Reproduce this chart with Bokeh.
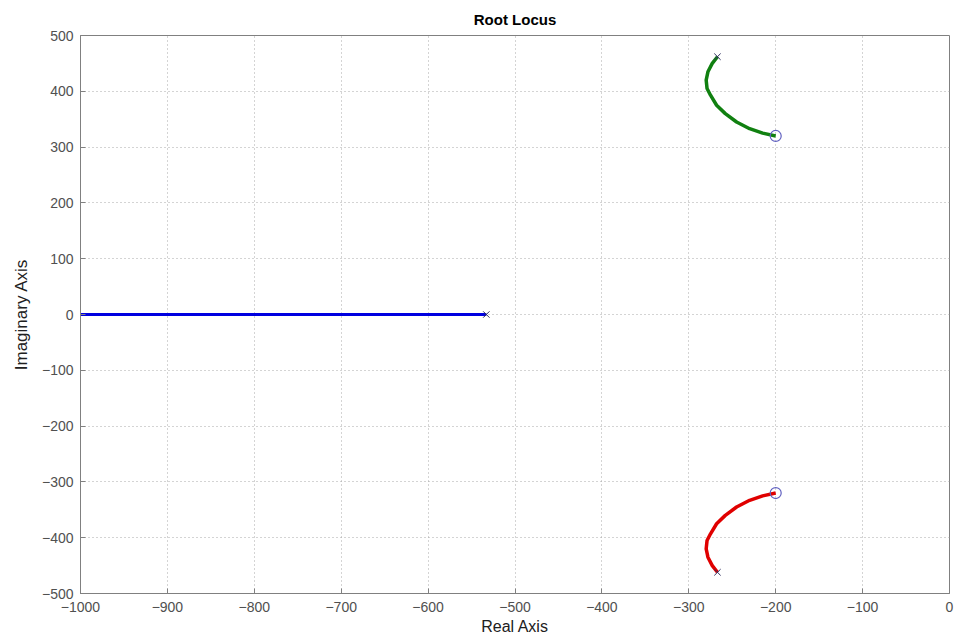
from bokeh.plotting import figure
from bokeh.embed import file_html
from bokeh.resources import INLINE
from bokeh.models import Range1d, FixedTicker

# Data
blue_real = [-1000, -533]
blue_imag = [0, 0]

green_real = [-267, -273, -278, -280, -279, -275, -268, -258, -245, -230, -215, -200]
green_imag = [462, 450, 435, 420, 405, 393, 375, 360, 345, 333, 325, 320]

red_real = [-267, -273, -278, -280, -279, -275, -268, -258, -245, -230, -215, -200]
red_imag = [-462, -450, -435, -420, -405, -393, -375, -360, -345, -333, -325, -320]

pole_real = [-533, -267, -267]
pole_imag = [0, 462, -462]
zero_real = [-200, -200]
zero_imag = [320, -320]

x_ticks = [-1000, -900, -800, -700, -600, -500, -400, -300, -200, -100, 0]
y_ticks = [-500, -400, -300, -200, -100, 0, 100, 200, 300, 400, 500]

FONT = "Liberation Sans"

p = figure(width=956, height=643, output_backend="svg", toolbar_location=None,
           x_range=Range1d(-1000, 0), y_range=Range1d(-500, 500),
           min_border_left=80, min_border_right=7, min_border_top=35, min_border_bottom=50,
           title="Root Locus")

p.title.align = "center"
p.title.vertical_align = "top"
p.title.text_font = FONT
p.title.text_font_size = "15px"
p.title.text_font_style = "bold"
p.title.text_color = "#000000"
p.title.standoff = 12

p.outline_line_color = "#808080"
p.outline_line_width = 1
p.background_fill_color = "white"
p.border_fill_color = "white"

for ax in (p.xaxis[0], p.yaxis[0]):
    ax.major_label_text_font = FONT
    ax.major_label_text_font_size = "14px"
    ax.major_label_text_color = "#505050"
    ax.axis_label_text_font = FONT
    ax.axis_label_text_font_style = "normal"
    ax.axis_label_text_color = "#202020"
    ax.axis_line_color = "#808080"
    ax.major_tick_line_color = "#808080"
    ax.major_tick_in = 5
    ax.major_tick_out = 0
    ax.minor_tick_line_color = None

p.xaxis[0].ticker = FixedTicker(ticks=x_ticks)
p.yaxis[0].ticker = FixedTicker(ticks=y_ticks)
p.xaxis[0].axis_label = "Real Axis"
p.yaxis[0].axis_label = "Imaginary Axis"
p.xaxis[0].axis_label_text_font_size = "16px"
p.yaxis[0].axis_label_text_font_size = "17px"
p.xaxis[0].major_label_standoff = 8
p.xaxis[0].axis_label_standoff = 3
p.yaxis[0].major_label_standoff = 7
p.yaxis[0].axis_label_standoff = 8

p.xgrid.ticker = FixedTicker(ticks=x_ticks)
p.ygrid.ticker = FixedTicker(ticks=y_ticks)
p.grid.grid_line_color = "#a8a8a8"
p.grid.grid_line_dash = "1 3"
p.grid.grid_line_width = 1

p.line(blue_real, blue_imag, line_color="#0000e0", line_width=3)
p.line(green_real, green_imag, line_color="#108010", line_width=3.5)
p.line(red_real, red_imag, line_color="#e00000", line_width=3.5)

p.scatter(pole_real, pole_imag, marker="x", size=9, line_color="#303060", line_width=1)
p.scatter(zero_real, zero_imag, marker="circle", size=11, fill_color=None,
          line_color="#6060c0", line_width=1.2)

open("out.html", "w").write(file_html(p, INLINE))
